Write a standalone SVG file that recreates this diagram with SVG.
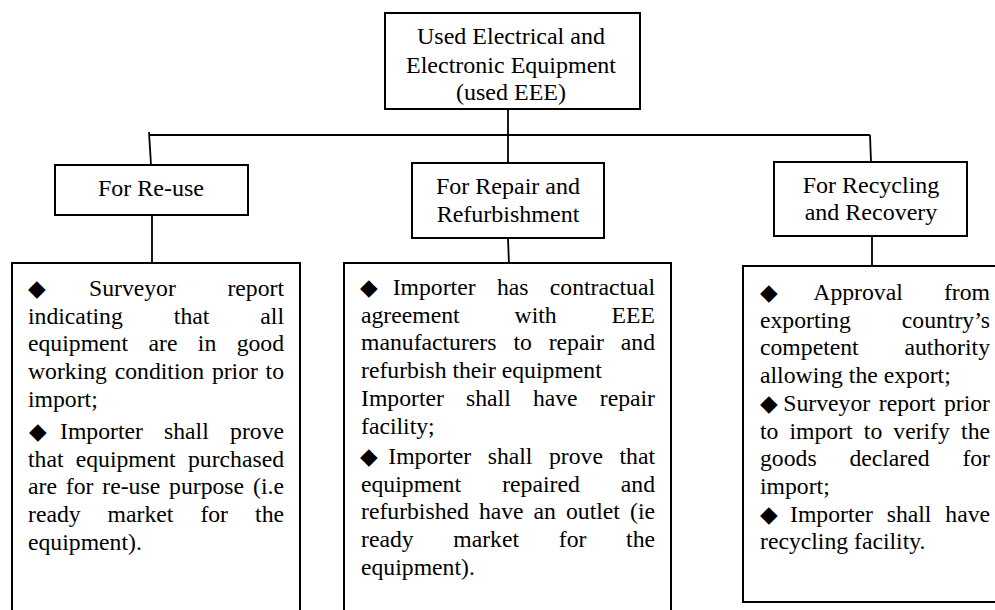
<svg xmlns="http://www.w3.org/2000/svg" width="995" height="610" viewBox="0 0 995 610" font-family="'Liberation Serif', 'Times New Roman', 'DejaVu Serif', serif">
<style>
  .box{fill:#fff;stroke:#000;stroke-width:2}
  .ln{fill:none;stroke:#000;stroke-width:1.8}
  .h{font-size:24px;text-anchor:middle}
  .b{font-size:23.7px}
  .e{text-anchor:end}
  .d{font-size:23px;font-family:'DejaVu Sans',sans-serif}
</style>
<rect width="995" height="610" fill="#fff"/>
<g id="connectors">
  <line class="ln" x1="508" y1="109" x2="508" y2="135"/>
  <line class="ln" x1="149" y1="135" x2="870" y2="135"/>
  <line class="ln" x1="149" y1="132" x2="151" y2="165"/>
  <line class="ln" x1="508" y1="135" x2="508" y2="163"/>
  <line class="ln" x1="870" y1="135" x2="871" y2="162"/>
  <line class="ln" x1="152" y1="215" x2="152" y2="263"/>
  <line class="ln" x1="508" y1="238" x2="509" y2="265"/>
  <line class="ln" x1="872" y1="236" x2="872" y2="266"/>
</g>
<g id="top">
  <rect class="box" x="385" y="13" width="255" height="96"/>
  <text class="h" x="511" y="44">Used Electrical and</text>
  <text class="h" x="511" y="72.7">Electronic Equipment</text>
  <text class="h" x="511" y="100">(used EEE)</text>
</g>
<g id="reuse">
  <rect class="box" x="55" y="165" width="193" height="50"/>
  <text class="h" x="151" y="196">For Re-use</text>
</g>
<g id="repair">
  <rect class="box" x="412" y="163" width="192" height="75"/>
  <text class="h" x="508" y="194">For Repair and</text>
  <text class="h" x="508" y="221.7">Refurbishment</text>
</g>
<g id="recycling">
  <rect class="box" x="774" y="162" width="193" height="74"/>
  <text class="h" x="871" y="192.7">For Recycling</text>
  <text class="h" x="871" y="220">and Recovery</text>
</g>
<g id="reuse-req">
  <rect class="box" x="12" y="263" width="288" height="360"/>
  <text class="b" y="296"><tspan class="d" x="28">◆</tspan><tspan x="89">Surveyor</tspan></text>
  <text class="b e" x="284" y="296">report</text>
  <text class="b" y="323.7"><tspan x="28">indicating</tspan><tspan x="173.8">that</tspan></text>
  <text class="b e" x="284" y="323.7">all</text>
  <text class="b" y="351.4"><tspan x="28">equipment</tspan><tspan x="148.5">are</tspan><tspan x="197.8">in</tspan></text>
  <text class="b e" x="284" y="351.4">good</text>
  <text class="b" y="379.1"><tspan x="28">working</tspan><tspan x="114.7">condition</tspan><tspan x="211.9">prior</tspan></text>
  <text class="b e" x="284" y="379.1">to</text>
  <text class="b" x="28" y="406.8">import;</text>
  <text class="b" y="439"><tspan class="d" x="29">◆</tspan><tspan x="60">Importer</tspan><tspan x="164">shall</tspan></text>
  <text class="b e" x="284" y="439">prove</text>
  <text class="b" y="466.7"><tspan x="28">that</tspan><tspan x="75.7">equipment</tspan></text>
  <text class="b e" x="284" y="466.7">purchased</text>
  <text class="b" y="494.4"><tspan x="28">are</tspan><tspan x="65.8">for</tspan><tspan x="102.3">re-use</tspan><tspan x="169.1">purpose</tspan></text>
  <text class="b e" x="284" y="494.4">(i.e</text>
  <text class="b" y="522.1"><tspan x="28">ready</tspan><tspan x="107.6">market</tspan><tspan x="200.4">for</tspan></text>
  <text class="b e" x="284" y="522.1">the</text>
  <text class="b" x="28" y="549.8">equipment).</text>
</g>
<g id="repair-req">
  <rect class="box" x="344" y="263" width="327" height="360"/>
  <text class="b" y="295"><tspan class="d" x="360">◆</tspan><tspan x="392.7">Importer</tspan><tspan x="496.9">has</tspan></text>
  <text class="b e" x="655" y="295">contractual</text>
  <text class="b" y="322.7"><tspan x="361">agreement</tspan><tspan x="514.6">with</tspan></text>
  <text class="b e" x="655" y="322.7">EEE</text>
  <text class="b" y="350.4"><tspan x="361">manufacturers</tspan><tspan x="513.4">to</tspan><tspan x="548.7">repair</tspan></text>
  <text class="b e" x="655" y="350.4">and</text>
  <text class="b" x="361" y="378.1">refurbish their equipment</text>
  <text class="b" y="405.8"><tspan x="361">Importer</tspan><tspan x="466">shall</tspan><tspan x="532.9">have</tspan></text>
  <text class="b e" x="655" y="405.8">repair</text>
  <text class="b" x="361" y="433.5">facility;</text>
  <text class="b" y="464"><tspan class="d" x="360">◆</tspan><tspan x="388.3">Importer</tspan><tspan x="487.7">shall</tspan><tspan x="549">prove</tspan></text>
  <text class="b e" x="655" y="464">that</text>
  <text class="b" y="491.7"><tspan x="361">equipment</tspan><tspan x="502.2">repaired</tspan></text>
  <text class="b e" x="655" y="491.7">and</text>
  <text class="b" y="519.4"><tspan x="361">refurbished</tspan><tspan x="478.9">have</tspan><tspan x="533.6">an</tspan><tspan x="566">outlet</tspan></text>
  <text class="b e" x="655" y="519.4">(ie</text>
  <text class="b" y="547.1"><tspan x="361">ready</tspan><tspan x="453.3">market</tspan><tspan x="558.8">for</tspan></text>
  <text class="b e" x="655" y="547.1">the</text>
  <text class="b" x="361" y="574.8">equipment).</text>
</g>
<g id="recycling-req">
  <rect class="box" x="743" y="266" width="262" height="336"/>
  <text class="b" y="300"><tspan class="d" x="760">◆</tspan><tspan x="813.3">Approval</tspan></text>
  <text class="b e" x="990" y="300">from</text>
  <text class="b" x="760" y="327.7">exporting</text>
  <text class="b e" x="990" y="327.7">country’s</text>
  <text class="b" x="760" y="355.4">competent</text>
  <text class="b e" x="990" y="355.4">authority</text>
  <text class="b" x="760" y="383.1">allowing the export;</text>
  <text class="b" y="410.8"><tspan class="d" x="760">◆</tspan><tspan x="783.3">Surveyor</tspan><tspan x="878.8">report</tspan></text>
  <text class="b e" x="990" y="410.8">prior</text>
  <text class="b" y="438.5"><tspan x="760">to</tspan><tspan x="789.5">import</tspan><tspan x="863.8">to</tspan><tspan x="893.3">verify</tspan></text>
  <text class="b e" x="990" y="438.5">the</text>
  <text class="b" y="466.2"><tspan x="760">goods</tspan><tspan x="849.4">declared</tspan></text>
  <text class="b e" x="990" y="466.2">for</text>
  <text class="b" x="760" y="493.9">import;</text>
  <text class="b" y="521.6"><tspan class="d" x="760">◆</tspan><tspan x="790">Importer</tspan><tspan x="886.7">shall</tspan></text>
  <text class="b e" x="990" y="521.6">have</text>
  <text class="b" x="760" y="549.3">recycling facility.</text>
</g>
</svg>
